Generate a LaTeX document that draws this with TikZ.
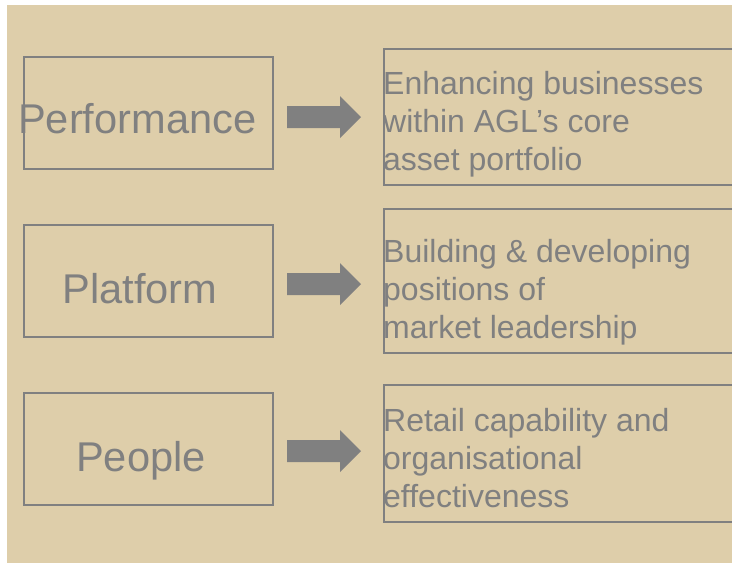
\documentclass[tikz,border=0pt]{standalone}
\usepackage{fontspec}
\setmainfont{Liberation Sans}
\definecolor{bg}{RGB}{222,206,170}
\definecolor{ink}{RGB}{128,128,128}
\begin{document}
\begin{tikzpicture}[x=1pt,y=-1pt,
  box/.style={draw=ink,line width=1.5pt,inner sep=0pt,anchor=north west},
  leftbox/.style={box,minimum width=249pt},
  big/.style={font=\fontsize{41.6}{48}\selectfont,text=ink,inner sep=0pt},
  small/.style={font=\fontsize{32}{38}\selectfont,text=ink,inner sep=0pt,anchor=base west},
  blockarrow/.style={fill=ink,draw=none}]
\clip (0,0) rectangle (732,563);
\fill[white] (0,0) rectangle (732,563);
\fill[bg] (7,5) rectangle (732,563);

% left boxes
\node[leftbox,minimum height=112pt] (b1) at (23,56) {};
\node[leftbox,minimum height=112pt] (b2) at (23,224) {};
\node[leftbox,minimum height=112pt] (b3) at (23,392) {};

% right boxes
\node[box,minimum width=360pt,minimum height=136pt] (r1) at (383,48) {};
\node[box,minimum width=360pt,minimum height=144pt] (r2) at (383,208) {};
\node[box,minimum width=360pt,minimum height=137pt] (r3) at (383,384) {};

% left labels
\node[big,anchor=base west] (t1) at (18,133) {Performance};
\node[big,anchor=base] (t2) at (140,303) {Platform};
\node[big,anchor=base] (t3) at (141,471) {People};

% right texts
\node[small] (p1a) at (383,94) {Enhancing businesses};
\node[small] (p1b) at (383,132) {within AGL’s core};
\node[small] (p1c) at (383,170) {asset portfolio};

\node[small] (p2a) at (383,262) {Building \& developing};
\node[small] (p2b) at (383,300) {positions of};
\node[small] (p2c) at (383,338) {market leadership};

\node[small] (p3a) at (383,431) {Retail capability and};
\node[small] (p3b) at (383,469) {organisational};
\node[small] (p3c) at (383,507) {effectiveness};

% block arrows
\coordinate (a1) at (287,117);
\coordinate (a2) at (287,284);
\coordinate (a3) at (287,451);
\foreach \a in {a1,a2,a3}{
  \fill[blockarrow] (\a) ++(0,-11) -- ++(53,0) -- ++(0,-10) -- ++(21,21)
    -- ++(-21,21) -- ++(0,-10) -- ++(-53,0) -- cycle;
}
\end{tikzpicture}
\end{document}
